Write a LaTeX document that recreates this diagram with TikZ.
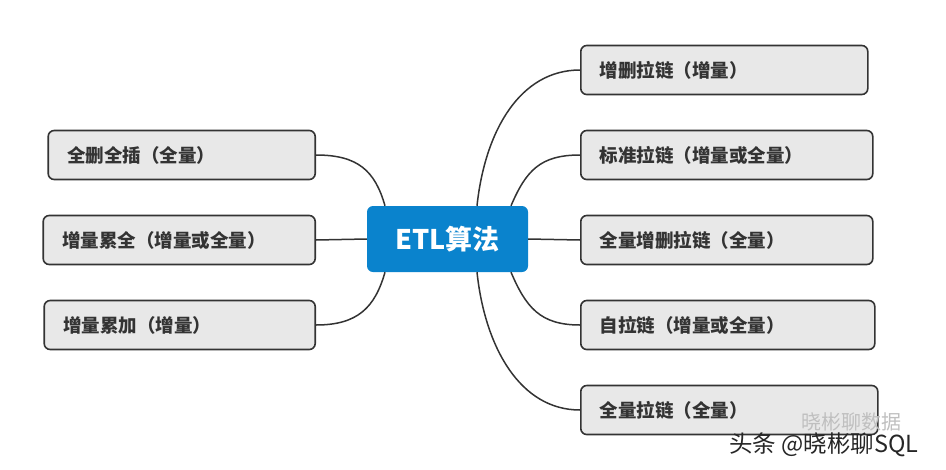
\documentclass[tikz,border=0pt]{standalone}
\usepackage{fontspec}
\setmainfont{Noto Sans CJK SC}
\usepackage{tikz}
\usepackage{xcolor}

\definecolor{etlblue}{HTML}{0A83CD}
\definecolor{boxgray}{HTML}{E8E8E8}
\definecolor{linegray}{HTML}{333333}

\tikzset{
  leaf/.style={draw=linegray, line width=1.6pt, fill=boxgray, rounded corners=6pt,
    minimum height=49pt, inner xsep=19pt, text width=#1, align=left,
    font=\fontsize{18.5}{21}\selectfont\bfseries, text=linegray},
  link/.style={draw=linegray, line width=1.5pt}
}

\begin{document}
\begin{tikzpicture}[x=1pt,y=-1pt]
\useasboundingbox (0,0) rectangle (946,469);

\node[fill=etlblue, rounded corners=6pt, minimum width=161pt, minimum height=66pt,
  text=white, font=\fontsize{27}{30}\selectfont\bfseries] (etl) at (447.5,239) {ETL算法};

% right side
\node[leaf=249pt, anchor=west] (zslz) at (580,70) {增删拉链（增量）};
\node[leaf=254pt, anchor=west] (bzlz) at (580,155) {标准拉链（增量或全量）};
\node[leaf=254pt, anchor=west] (qlzs) at (580,240) {全量增删拉链（全量）};
\node[leaf=256pt, anchor=west] (zlz) at (580,325) {自拉链（增量或全量）};
\node[leaf=259pt, anchor=west] (qllz) at (580,410) {全量拉链（全量）};

% left side
\node[leaf=229pt, anchor=east] (qsqc) at (316,155) {全删全插（全量）};
\node[leaf=234pt, anchor=east] (zllq) at (316,240) {增量累全（增量或全量）};
\node[leaf=233pt, anchor=east] (zllj) at (316,325) {增量累加（增量）};

% links
\draw[link] ([xshift=29.5pt]etl.north) .. controls +(8,-75) and +(-60,0) .. (zslz.west);
\draw[link] ([xshift=63.5pt]etl.north) .. controls +(15,-35) and +(-40,0) .. (bzlz.west);
\draw[link] (etl.east) -- (qlzs.west);
\draw[link] ([xshift=63.5pt]etl.south) .. controls +(15,35) and +(-40,0) .. (zlz.west);
\draw[link] ([xshift=29.5pt]etl.south) .. controls +(8,75) and +(-60,0) .. (qllz.west);

\draw[link] (qsqc.east) .. controls +(42,0) and +(-10,-35) .. ([xshift=-62.5pt]etl.north);
\draw[link] (zllq.east) -- (etl.west);
\draw[link] (zllj.east) .. controls +(42,0) and +(-10,35) .. ([xshift=-62.5pt]etl.south);

% watermark
\node[anchor=west, text=black!25, font=\fontsize{20}{21}\selectfont, inner sep=1pt] (wm1) at (800,422) {晓彬聊数据};
\node[anchor=west, text=black!85, font=\fontsize{23.5}{25}\selectfont, inner sep=1pt] (wm2) at (728,445) {头条 @晓彬聊SQL};
\end{tikzpicture}
\end{document}
